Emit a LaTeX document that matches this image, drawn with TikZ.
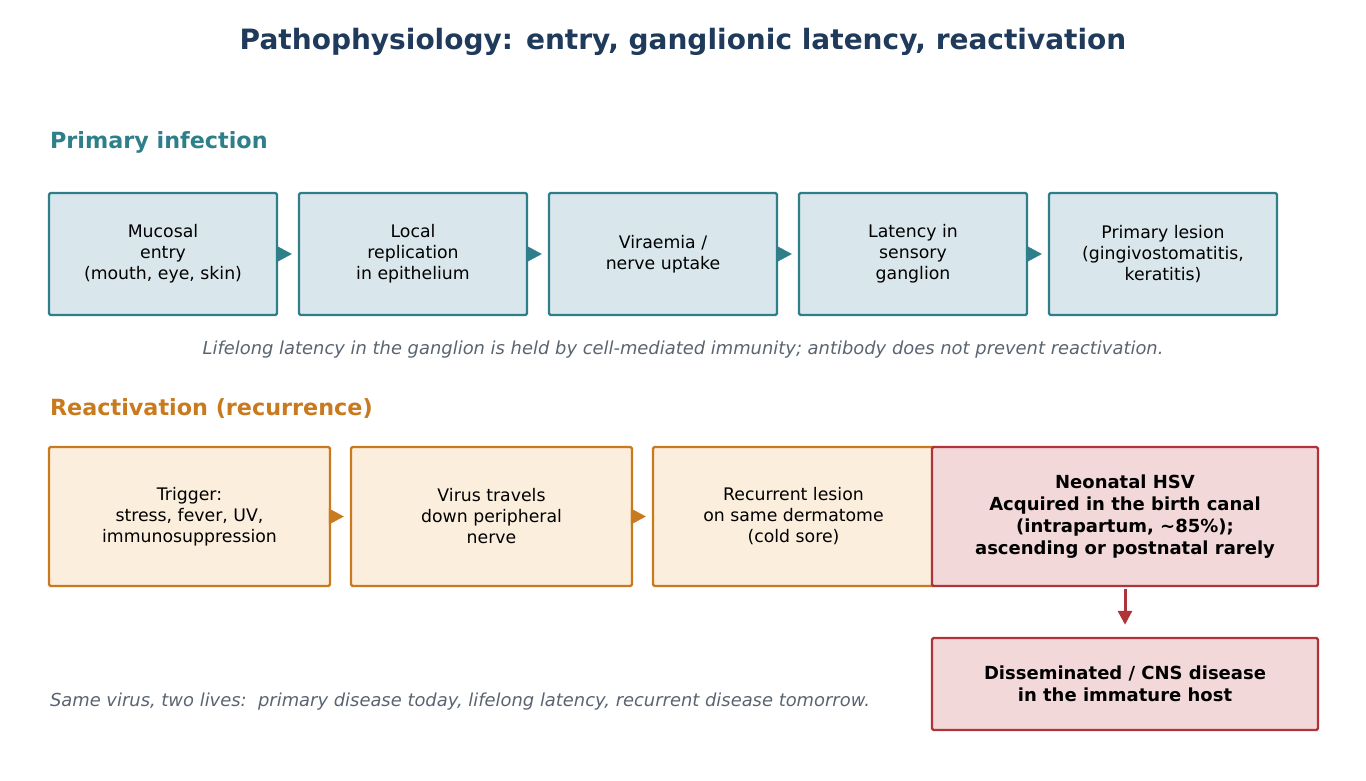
\documentclass[tikz,border=0pt]{standalone}
\usepackage{fontspec}
\setmainfont{DejaVu Sans}
\usetikzlibrary{arrows.meta}
\definecolor{teal}{HTML}{2E7F8A}
\definecolor{tealfill}{HTML}{D9E6EB}
\definecolor{ochre}{HTML}{C97A1E}
\definecolor{ochrefill}{HTML}{FBEEDC}
\definecolor{darkred}{HTML}{B0333A}
\definecolor{redfill}{HTML}{F3D8DA}
\definecolor{navy}{HTML}{1F3A5A}
\definecolor{notegray}{HTML}{5A6470}

\begin{document}
\begin{tikzpicture}[x=1pt,y=-1pt,rounded corners=1.5pt,
  every node/.style={align=center,font=\fontsize{17.3}{21}\selectfont},
  primbox/.style={draw=teal,fill=tealfill,line width=2.4pt,minimum width=228pt,minimum height=122pt},
  recbox/.style={draw=ochre,fill=ochrefill,line width=2.4pt,minimum width=281pt,minimum height=139pt},
  neobox/.style={draw=darkred,fill=redfill,line width=2.4pt,minimum width=386pt,
    font=\fontsize{18}{22}\selectfont\bfseries},
  heading/.style={anchor=west,font=\fontsize{22.3}{26}\selectfont\bfseries},
  note/.style={text=notegray,font=\fontsize{17.9}{21}\selectfont\itshape}]
\useasboundingbox (0,0) rectangle (1366,780);
\node[font=\fontsize{28}{32}\selectfont\bfseries,text=navy] (title) at (683,42) {Pathophysiology: entry, ganglionic latency, reactivation};
% primary infection
\node[heading,text=teal] (prim) at (46.5,142) {Primary infection};
\node[primbox] (p1) at (163,254) {Mucosal\\entry\\(mouth, eye, skin)};
\node[primbox] (p2) at (413,254) {Local\\replication\\in epithelium};
\node[primbox] (p3) at (663,254) {Viraemia /\\nerve uptake};
\node[primbox] (p4) at (913,254) {Latency in\\sensory\\ganglion};
\node[primbox] (p5) at (1163,254) {Primary lesion\\(gingivostomatitis,\\keratitis)};
\draw[teal,-{Triangle[length=15pt,width=16pt]},shorten >=6pt] (p1.east) -- (p2.west);
\draw[teal,-{Triangle[length=15pt,width=16pt]},shorten >=6pt] (p2.east) -- (p3.west);
\draw[teal,-{Triangle[length=15pt,width=16pt]},shorten >=6pt] (p3.east) -- (p4.west);
\draw[teal,-{Triangle[length=15pt,width=16pt]},shorten >=6pt] (p4.east) -- (p5.west);
\node[note] (lat) at (683,350) {Lifelong latency in the ganglion is held by cell-mediated immunity; antibody does not prevent reactivation.};
% reactivation
\node[heading,text=ochre] (react) at (46.5,408) {Reactivation (recurrence)};
\node[recbox] (r1) at (189.5,516.5) {Trigger:\\stress, fever, UV,\\immunosuppression};
\node[recbox] (r2) at (491.5,516.5) {Virus travels\\down peripheral\\nerve};
\node[recbox] (r3) at (793.5,516.5) {Recurrent lesion\\on same dermatome\\(cold sore)};
\draw[ochre,-{Triangle[length=15pt,width=16pt]},shorten >=6pt] (r1.east) -- (r2.west);
\draw[ochre,-{Triangle[length=15pt,width=16pt]},shorten >=6pt] (r2.east) -- (r3.west);
% neonatal
\node[neobox,minimum height=139pt] (neo) at (1125,516.5) {Neonatal HSV\\Acquired in the birth canal\\(intrapartum, \textasciitilde85\%);\\ascending or postnatal rarely};
\node[neobox,minimum height=92pt] (dis) at (1125,684) {Disseminated / CNS disease\\in the immature host};
\draw[darkred,line width=3pt,-{Triangle[length=14pt,width=14pt]},shorten <=2pt,shorten >=12pt] (neo.south) -- (dis.north);
\node[note,anchor=west] (same) at (46.5,702) {Same virus, two lives:\ \ primary disease today, lifelong latency, recurrent disease tomorrow.};
\end{tikzpicture}
\end{document}
